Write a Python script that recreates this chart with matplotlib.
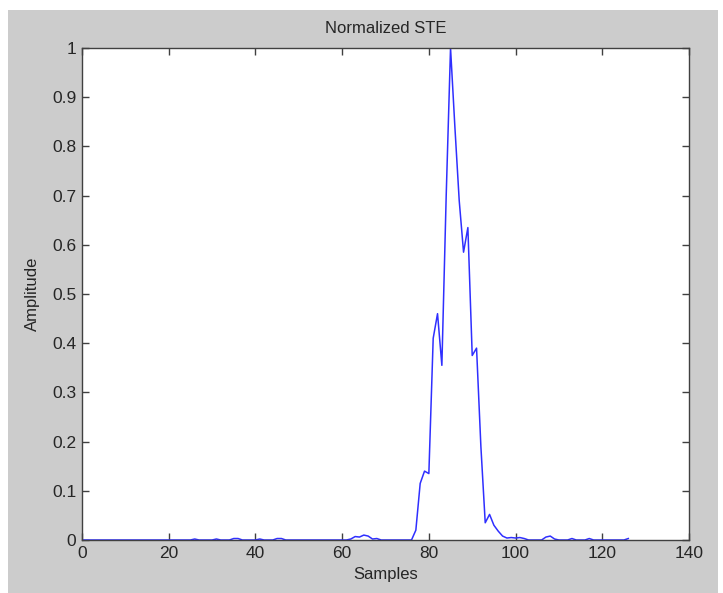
import numpy as np
import matplotlib
matplotlib.use("Agg")
import matplotlib.pyplot as plt
from matplotlib.patches import Rectangle

plt.rcParams['font.family'] = ['Liberation Sans', 'DejaVu Sans']

# Normalized short-time energy per frame (frames 0..126)
samples = np.arange(0, 127)
ste = np.zeros(127)

# small background activity
bumps = {
    26: 0.002, 31: 0.002, 35: 0.003, 36: 0.003, 41: 0.002, 45: 0.003, 46: 0.003,
    62: 0.002, 63: 0.007, 64: 0.006, 65: 0.01, 66: 0.008, 67: 0.002, 68: 0.003,
}
# main speech segment
burst = {
    77: 0.02, 78: 0.115, 79: 0.14, 80: 0.135, 81: 0.41, 82: 0.46, 83: 0.355,
    84: 0.70, 85: 1.0, 86: 0.84, 87: 0.69, 88: 0.585, 89: 0.635, 90: 0.375,
    91: 0.39, 92: 0.19, 93: 0.035, 94: 0.052, 95: 0.03, 96: 0.018, 97: 0.008,
    98: 0.004, 99: 0.005, 100: 0.004, 101: 0.005, 102: 0.003,
}
tail = {
    107: 0.006, 108: 0.008, 109: 0.002, 113: 0.003, 117: 0.003, 126: 0.003,
}
for d in (bumps, burst, tail):
    for k, v in d.items():
        ste[k] = v

xticks = [0, 20, 40, 60, 80, 100, 120, 140]
yticks = [0, 0.1, 0.2, 0.3, 0.4, 0.5, 0.6, 0.7, 0.8, 0.9, 1]
ytick_labels = ["0", "0.1", "0.2", "0.3", "0.4", "0.5", "0.6", "0.7", "0.8", "0.9", "1"]

W, H = 723, 593
fig = plt.figure(figsize=(W / 100, H / 100), dpi=100)
fig.patch.set_facecolor("white")
# grey window background
fig.add_artist(Rectangle((8 / W, 0), (718 - 8) / W, 1 - 10 / H,
                         transform=fig.transFigure, facecolor="#cccccc",
                         edgecolor="none", zorder=0))

ax = fig.add_axes([82 / W, 1 - 540 / H, (689 - 82) / W, (540 - 48) / H])
ax.set_facecolor("white")
ax.plot(samples, ste, color="#2f2fff", lw=1.1)

ax.set_xlim(0, 140)
ax.set_ylim(0, 1)
ax.set_xticks(xticks)
ax.set_yticks(yticks)
ax.set_yticklabels(ytick_labels)

txt = "#262626"
ax.tick_params(direction="in", length=5, width=1, colors="#404040",
               labelcolor=txt, labelsize=12.5, top=True, right=True, pad=4)
for s in ax.spines.values():
    s.set_color("#404040")
    s.set_linewidth(1.0)

ax.set_title("Normalized STE", fontsize=12, color=txt, pad=11)
ax.set_xlabel("Samples", fontsize=12, color=txt, labelpad=5)
ax.set_ylabel("Amplitude", fontsize=12, color=txt, labelpad=9)

fig.savefig("out.png", dpi=100)
